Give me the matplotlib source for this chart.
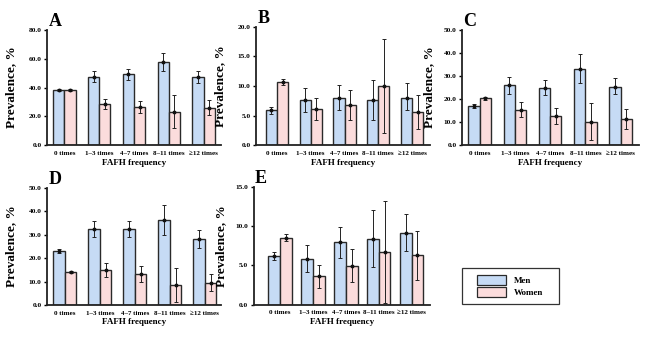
import matplotlib
matplotlib.use("Agg")
import matplotlib.pyplot as plt
import numpy as np
from matplotlib.patches import Rectangle, Patch

plt.rcParams['font.family'] = ['Liberation Serif', 'DejaVu Serif']
plt.rcParams['font.weight'] = 'bold'

categories = ["0 times", "1\u20133 times", "4\u20137 times", "8\u201311 times", "\u226512 times"]
series_names = ["Men", "Women"]

# Panel A
A_men = [38.2, 47.2, 49.1, 57.4, 47.2]
A_men_lo = [37.4, 43.5, 45.2, 51.4, 43.3]
A_men_hi = [39.0, 51.2, 52.8, 63.6, 51.2]
A_women = [38.2, 28.6, 26.3, 23.3, 25.8]
A_women_lo = [37.5, 24.9, 22.1, 12.0, 20.7]
A_women_hi = [38.9, 32.3, 30.4, 34.6, 31.3]

# Panel B
B_men = [5.9, 7.6, 8.0, 7.6, 8.0]
B_men_lo = [5.3, 5.6, 6.0, 4.2, 5.9]
B_men_hi = [6.4, 9.6, 10.1, 11.0, 10.45]
B_women = [10.67, 6.07, 6.74, 9.94, 5.56]
B_women_lo = [10.2, 4.3, 4.3, 2.0, 2.8]
B_women_hi = [11.1, 7.9, 9.3, 17.9, 8.4]

# Panel C
C_men = [17.1, 25.9, 25.0, 33.0, 25.3]
C_men_lo = [16.2, 22.2, 21.9, 27.1, 22.0]
C_men_hi = [18.0, 29.4, 28.4, 39.3, 29.0]
C_women = [20.3, 15.4, 12.5, 9.9, 11.4]
C_women_lo = [19.8, 12.4, 9.2, 2.2, 7.2]
C_women_hi = [20.8, 18.7, 16.1, 18.2, 15.6]

# Panel D
D_men = [22.9, 32.2, 32.2, 36.1, 28.0]
D_men_lo = [22.1, 28.8, 28.8, 30.0, 24.3]
D_men_hi = [23.7, 35.6, 35.6, 42.5, 31.8]
D_women = [14.2, 14.8, 13.4, 8.4, 9.5]
D_women_lo = [13.7, 11.8, 9.8, 1.1, 5.8]
D_women_hi = [14.7, 17.8, 16.8, 15.6, 13.4]

# Panel E
E_men = [6.17, 5.79, 8.0, 8.43, 9.19]
E_men_lo = [5.67, 4.13, 5.96, 4.8, 6.8]
E_men_hi = [6.67, 7.57, 9.96, 12.04, 11.57]
E_women = [8.55, 3.62, 4.9, 6.68, 6.3]
E_women_lo = [8.12, 2.17, 2.94, 0.17, 3.2]
E_women_hi = [8.98, 5.1, 7.06, 13.2, 9.4]

panel_letters = ["A", "B", "C", "D", "E"]
y_max = [80, 20, 50, 50, 15]
y_step = [20, 5, 10, 10, 5]

men_color = '#c6dbf5'
women_color = '#fbdcdc'
edge = '#2a2a2a'

W, H = 669, 346
fig = plt.figure(figsize=(W / 100, H / 100), dpi=100)

# pixel boxes: left, right, top, bottom
boxes = [(47, 221, 29.7, 145.3), (256, 430, 26.7, 145.3), (462, 639, 29.7, 145.3),
         (47, 221, 187.7, 305.0), (253.5, 430, 187.0, 304.7)]
xlims = [(-0.5, 4.5), (-0.62, 4.53), (-0.5, 4.52), (-0.51, 4.46), (-0.81, 4.56)]
ylabel_px = [17, 226, 435, 17, 227]

data = [
    (A_men, A_men_lo, A_men_hi, A_women, A_women_lo, A_women_hi),
    (B_men, B_men_lo, B_men_hi, B_women, B_women_lo, B_women_hi),
    (C_men, C_men_lo, C_men_hi, C_women, C_women_lo, C_women_hi),
    (D_men, D_men_lo, D_men_hi, D_women, D_women_lo, D_women_hi),
    (E_men, E_men_lo, E_men_hi, E_women, E_women_lo, E_women_hi),
]
bw = [0.32, 0.33, 0.32, 0.33, 0.355]

x = np.arange(len(categories))
for i, (l, r, t, b) in enumerate(boxes):
    ax = fig.add_axes([l / W, 1 - b / H, (r - l) / W, (b - t) / H])
    m, mlo, mhi, w, wlo, whi = [np.array(v) for v in data[i]]
    w_ = bw[i]
    ax.bar(x - w_ / 2, m, w_, color=men_color, edgecolor=edge, linewidth=1.0, zorder=2)
    ax.bar(x + w_ / 2, w, w_, color=women_color, edgecolor=edge, linewidth=1.0, zorder=2)
    ax.errorbar(x - w_ / 2, m, yerr=[m - mlo, mhi - m], fmt='o', ms=1.8, color='#111111',
                ecolor='#222222', elinewidth=0.7, capsize=1.6, capthick=0.7, zorder=3)
    ax.errorbar(x + w_ / 2, w, yerr=[w - wlo, whi - w], fmt='o', ms=1.8, color='#111111',
                ecolor='#222222', elinewidth=0.7, capsize=1.6, capthick=0.7, zorder=3)
    ax.set_xlim(*xlims[i])
    ax.set_ylim(0, y_max[i])
    ax.set_yticks(np.arange(0, y_max[i] + 0.01, y_step[i]))
    ax.set_yticklabels([f"{v:.1f}" for v in np.arange(0, y_max[i] + 0.01, y_step[i])],
                       fontsize=5.3, fontweight='bold')
    ax.set_xticks(x)
    ax.set_xticklabels(categories, fontsize=5.0, fontweight='bold')
    ax.tick_params(axis='x', length=0, pad=4)
    ax.tick_params(axis='y', length=2.5, width=1.0, pad=1.5)
    for s in ['top', 'right']:
        ax.spines[s].set_visible(False)
    for s in ['left', 'bottom']:
        ax.spines[s].set_linewidth(1.3)
        ax.spines[s].set_color('#222222')
    ax.set_xlabel("FAFH frequency", fontsize=6.5, fontweight='bold', labelpad=2)
    ax.set_ylabel("Prevalence, %", fontsize=9.5, fontweight='bold')
    ax.yaxis.set_label_coords((ylabel_px[i] - l) / (r - l), 0.5)
    fig.text(l / W + 0.002, 1 - (t - 4) / H, panel_letters[i], fontsize=13,
             fontweight='bold', ha='left', va='baseline')

# legend box
fig.patches.append(Rectangle((462 / W, 1 - 304 / H), 97 / W, 36 / H, transform=fig.transFigure,
                             fill=False, edgecolor='#333333', linewidth=0.9))
handles = [Patch(facecolor=men_color, edgecolor=edge, linewidth=0.9, label=series_names[0]),
           Patch(facecolor=women_color, edgecolor=edge, linewidth=0.9, label=series_names[1])]
fig.legend(handles=handles, loc='center left', bbox_to_anchor=(473 / W, 1 - 286 / H),
           frameon=False, handlelength=3.3, handleheight=1.25,
           handletextpad=0.8, labelspacing=0.25, borderaxespad=0,
           prop={'weight': 'bold', 'size': 6.5})

fig.savefig("out.png", dpi=100)
